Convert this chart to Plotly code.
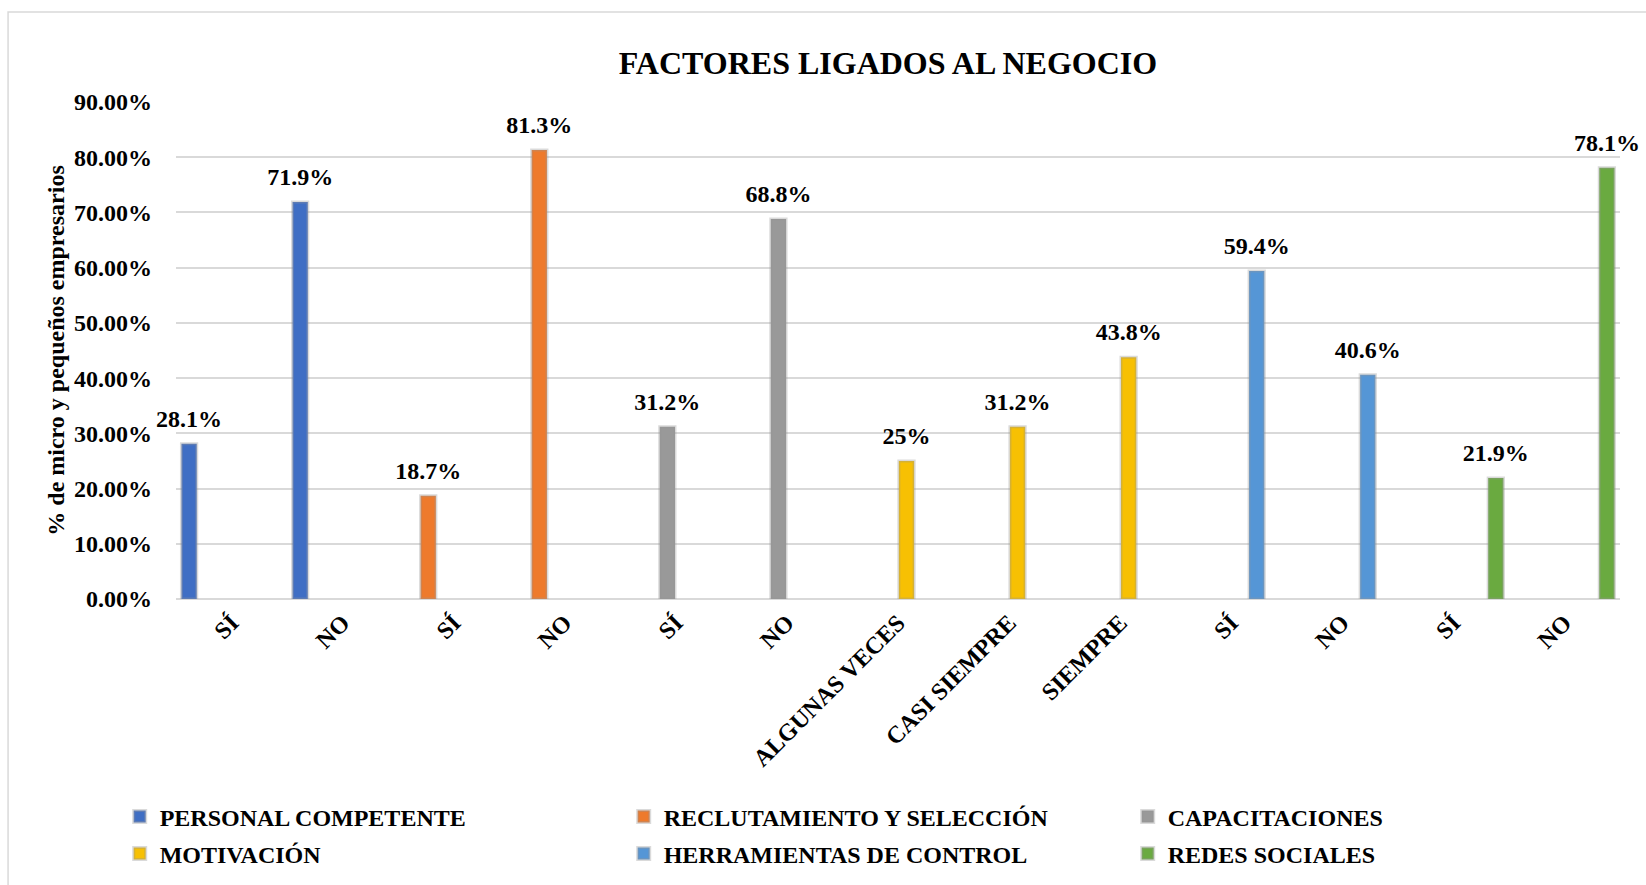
import plotly.graph_objects as go

CATEGORIES = ["SÍ", "NO", "SÍ", "NO", "SÍ", "NO", "ALGUNAS VECES", "CASI SIEMPRE",
              "SIEMPRE", "SÍ", "NO", "SÍ", "NO"]
VALUES = [0.281, 0.719, 0.187, 0.813, 0.312, 0.688, 0.25, 0.312, 0.438,
          0.594, 0.406, 0.219, 0.781]
LABELS = ["28.1%", "71.9%", "18.7%", "81.3%", "31.2%", "68.8%", "25%", "31.2%",
          "43.8%", "59.4%", "40.6%", "21.9%", "78.1%"]
GROUP = [0, 0, 1, 1, 2, 2, 3, 3, 3, 4, 4, 5, 5]
SERIES = ["PERSONAL COMPETENTE", "RECLUTAMIENTO Y SELECCIÓN", "CAPACITACIONES",
          "MOTIVACIÓN", "HERRAMIENTAS DE CONTROL", "REDES SOCIALES"]
COLOURS = ["#3F6EC4", "#EE7A2C", "#999999", "#F7C003", "#5596D6", "#6AAA40"]

FONT = "Times New Roman, Liberation Serif, serif"
GRID = "#D9D9D9"
BARGAP = 0.083
x_pos = list(range(len(CATEGORIES)))

fig = go.Figure()
for i, name in enumerate(SERIES):
    ys = [v if g == i else None for v, g in zip(VALUES, GROUP)]
    txt = [t if g == i else "" for t, g in zip(LABELS, GROUP)]
    fig.add_trace(go.Bar(
        x=x_pos, y=ys, name=name, offsetgroup=str(i),
        legend="legend" if i < 3 else "legend2",
        marker=dict(color=COLOURS[i], line=dict(color="rgba(150,150,150,0.35)", width=3)),
    ))
    # data labels, grouped the same way as the bars
    fig.add_trace(go.Scatter(
        x=x_pos, y=ys, text=txt, mode="markers+text", orientation="v",
        offsetgroup=str(i), textposition="top center", cliponaxis=False,
        marker=dict(size=16, opacity=0), showlegend=False, hoverinfo="skip",
        textfont=dict(family=FONT, size=24, color="black", weight="bold"),
    ))

legend_common = dict(orientation="h", xanchor="left", yanchor="middle",
                     entrywidth=459, itemwidth=30, traceorder="normal",
                     bgcolor="rgba(0,0,0,0)",
                     font=dict(size=24, family=FONT, weight="bold"))

fig.update_layout(
    width=1646, height=885,
    margin=dict(l=176, r=26, t=102, b=286, autoexpand=False),
    paper_bgcolor="white", plot_bgcolor="white",
    font=dict(family=FONT, size=24, color="black", weight="bold"),
    title=dict(text="FACTORES LIGADOS AL NEGOCIO", xref="paper", x=0.493,
               yref="container", y=0.929, xanchor="center", yanchor="middle",
               font=dict(size=32, family=FONT, weight="bold")),
    barmode="group", bargap=BARGAP, bargroupgap=0.1,
    scattermode="group", scattergap=BARGAP,
    showlegend=True,
    legend=dict(x=-0.039, y=-0.4386, **legend_common),
    legend2=dict(x=-0.039, y=-0.513, **legend_common),
    shapes=[dict(type="rect", xref="paper", yref="paper", x0=-0.1163, x1=1.05,
                 y0=-0.61, y1=1.181, line=dict(color=GRID, width=1.5))],
)
fig.update_yaxes(range=[0, 0.9], dtick=0.1, tickformat=".2%",
                 gridcolor=GRID, gridwidth=1.5, zeroline=True, zerolinecolor=GRID,
                 zerolinewidth=1.5, showline=False, ticklabelstandoff=23,
                 title=dict(text="% de micro y pequeños empresarios", standoff=2,
                            font=dict(size=24, family=FONT, weight="bold")))
fig.update_xaxes(tickvals=x_pos, ticktext=CATEGORIES, tickangle=-45,
                 range=[-0.5, len(CATEGORIES) - 0.5], showgrid=False,
                 showline=False, zeroline=False, ticklabelstandoff=4)

fig.write_html("out.html", config={"displayModeBar": False},
               post_script="document.body.style.margin = '0';")
